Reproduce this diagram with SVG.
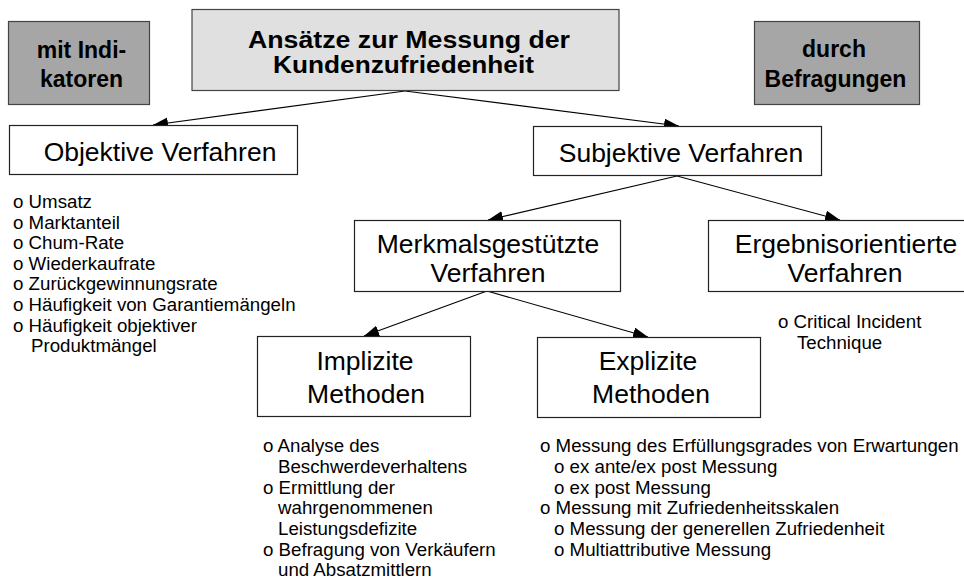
<svg xmlns="http://www.w3.org/2000/svg" width="964" height="581" viewBox="0 0 964 581">
<style>
.box{fill:#fff;stroke:#222;stroke-width:1.2}
.dark{fill:#a6a6a6;stroke:#444;stroke-width:1.2}
.light{fill:#e0e0e0;stroke:#444;stroke-width:1.2}
.t{font-family:"Liberation Sans",Arial,sans-serif;fill:#000}
.bt{font-size:26.5px;text-anchor:middle}
.hb{font-size:23px;font-weight:bold;text-anchor:middle}
.li{font-size:18.7px}
.con{stroke:#000;stroke-width:1.1;fill:none;marker-end:url(#ah)}
</style>
<defs>
<marker id="ah" markerUnits="userSpaceOnUse" markerWidth="16" markerHeight="12" refX="15" refY="5.5" orient="auto">
<path d="M0,0 L15,5.5 L0,11 z" fill="#000"/>
</marker>
</defs>
<rect width="964" height="581" fill="#fff"/>

<g id="connectors">
<line class="con" x1="405" y1="91" x2="153" y2="125"/>
<line class="con" x1="405" y1="91" x2="679" y2="126"/>
<line class="con" x1="677" y1="176" x2="488" y2="220"/>
<line class="con" x1="677" y1="176" x2="840" y2="220"/>
<line class="con" x1="487" y1="291" x2="364" y2="336"/>
<line class="con" x1="487" y1="291" x2="648" y2="337"/>
</g>

<g id="indikatoren">
<rect class="dark" x="8.5" y="21.5" width="141" height="83"/>
<text class="t hb" x="81.5" y="58">mit Indi-</text>
<text class="t hb" x="81.5" y="87">katoren</text>
</g>

<g id="titel">
<rect class="light" x="192" y="9.5" width="427" height="81"/>
<text class="t hb" x="409" y="48" textLength="322" lengthAdjust="spacingAndGlyphs">Ansätze zur Messung der</text>
<text class="t hb" x="403.5" y="73" textLength="261" lengthAdjust="spacingAndGlyphs">Kundenzufriedenheit</text>
</g>

<g id="befragungen">
<rect class="dark" x="754.5" y="21.5" width="165" height="83"/>
<text class="t hb" x="834" y="57">durch</text>
<text class="t hb" x="835.5" y="87">Befragungen</text>
</g>

<g id="objektiv">
<rect class="box" x="9.5" y="125.5" width="288" height="49"/>
<text class="t bt" x="160" y="161">Objektive Verfahren</text>
</g>

<g id="objektiv-liste" class="t li">
<text x="13" y="208">o Umsatz</text>
<text x="13" y="229">o Marktanteil</text>
<text x="13" y="249">o Chum-Rate</text>
<text x="13" y="270">o Wiederkaufrate</text>
<text x="13" y="290">o Zurückgewinnungsrate</text>
<text x="13" y="311">o Häufigkeit von Garantiemängeln</text>
<text x="13" y="332">o Häufigkeit objektiver</text>
<text x="31" y="352">Produktmängel</text>
</g>

<g id="subjektiv">
<rect class="box" x="533.5" y="126.5" width="288" height="49"/>
<text class="t bt" x="681" y="162">Subjektive Verfahren</text>
</g>

<g id="merkmal">
<rect class="box" x="354.5" y="220.5" width="266" height="71"/>
<text class="t bt" x="488" y="253">Merkmalsgestützte</text>
<text class="t bt" x="488" y="282">Verfahren</text>
</g>

<g id="ergebnis">
<rect class="box" x="708.5" y="220.5" width="270" height="71"/>
<text class="t bt" x="846" y="253">Ergebnisorientierte</text>
<text class="t bt" x="845" y="282">Verfahren</text>
</g>

<g id="ergebnis-liste" class="t li">
<text x="778" y="328">o Critical Incident</text>
<text x="797" y="349">Technique</text>
</g>

<g id="implizit">
<rect class="box" x="257.5" y="336.5" width="213" height="80"/>
<text class="t bt" x="365" y="370">Implizite</text>
<text class="t bt" x="366" y="403">Methoden</text>
</g>

<g id="explizit">
<rect class="box" x="537.5" y="337.5" width="223" height="80"/>
<text class="t bt" x="648" y="370">Explizite</text>
<text class="t bt" x="651" y="403">Methoden</text>
</g>

<g id="implizit-liste" class="t li">
<text x="263" y="452">o Analyse des</text>
<text x="278" y="473">Beschwerdeverhaltens</text>
<text x="263" y="494">o Ermittlung der</text>
<text x="278" y="514">wahrgenommenen</text>
<text x="278" y="535">Leistungsdefizite</text>
<text x="263" y="556">o Befragung von Verkäufern</text>
<text x="278" y="576">und Absatzmittlern</text>
</g>

<g id="explizit-liste" class="t li">
<text x="540" y="452">o Messung des Erfüllungsgrades von Erwartungen</text>
<text x="554" y="473">o ex ante/ex post Messung</text>
<text x="554" y="494">o ex post Messung</text>
<text x="540" y="514">o Messung mit Zufriedenheitsskalen</text>
<text x="554" y="535">o Messung der generellen Zufriedenheit</text>
<text x="554" y="556">o Multiattributive Messung</text>
</g>
</svg>
